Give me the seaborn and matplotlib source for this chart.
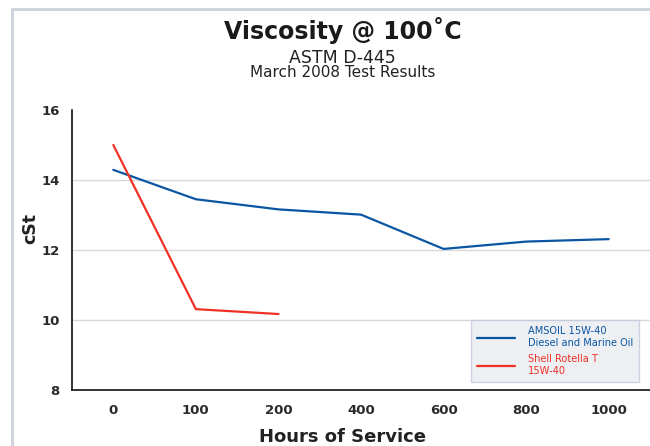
import numpy as np
import pandas as pd
import seaborn as sns
import matplotlib.pyplot as plt
from matplotlib.lines import Line2D

# x axis is categorical: evenly spaced hour labels
hour_ticks = [0, 100, 200, 400, 600, 800, 1000]
y_ticks = [8, 10, 12, 14, 16]

amsoil_hours = [0, 100, 200, 400, 600, 800, 1000]
amsoil_cst = [14.29, 13.45, 13.16, 13.01, 12.03, 12.24, 12.31]

shell_hours = [0, 100, 200]
shell_cst = [15.0, 10.31, 10.17]

amsoil_label = 'AMSOIL 15W-40\nDiesel and Marine Oil'
shell_label = 'Shell Rotella T\n15W-40'

BLUE = '#0b56a3'
RED = '#ee3124'

sns.set_style('white')
plt.rcParams['font.family'] = ['Liberation Sans Narrow', 'DejaVu Sans']

df = pd.concat([
    pd.DataFrame({'hours': amsoil_hours, 'cst': amsoil_cst, 'oil': amsoil_label}),
    pd.DataFrame({'hours': shell_hours, 'cst': shell_cst, 'oil': shell_label}),
])
# map hours onto the evenly spaced category positions
df['pos'] = np.interp(df['hours'], hour_ticks, np.arange(len(hour_ticks)))

fig = plt.figure(figsize=(6.5, 4.46), dpi=100)
ax = fig.add_axes([0.1108, 0.1256, 0.8892, 0.6278])

sns.lineplot(data=df, x='pos', y='cst', hue='oil', palette=[BLUE, RED],
             linewidth=1.6, ax=ax, sort=False, estimator=None)

ax.set_xlim(-0.5, 6.5)
ax.set_ylim(8, 16)
ax.set_xticks(np.arange(len(hour_ticks)))
ax.set_xticklabels([str(h) for h in hour_ticks])
ax.set_yticks(y_ticks)
ax.tick_params(axis='both', length=0, labelsize=9.5, labelcolor='#2a2a2a')
ax.tick_params(axis='x', pad=10)
ax.tick_params(axis='y', pad=9)
for lab in ax.get_xticklabels() + ax.get_yticklabels():
    lab.set_fontweight('bold')
ax.set_xlabel('')
ax.set_ylabel('cSt', fontsize=12.5, fontweight='bold', color='#222222')
ax.yaxis.set_label_coords(-0.056, 0.578)

ax.yaxis.grid(True, color='#d9d9d9', linewidth=1)
gl = ax.get_ygridlines()
gl[0].set_visible(False)
gl[-1].set_visible(False)

for s in ['top', 'right']:
    ax.spines[s].set_visible(False)
for s in ['left', 'bottom']:
    ax.spines[s].set_color('#111111')
    ax.spines[s].set_linewidth(1.2)

leg = ax.legend(loc='lower right', bbox_to_anchor=(0.99, 0.01), frameon=True,
                fontsize=7.1, labelcolor='linecolor', handlelength=3.8,
                handletextpad=1.3, borderpad=0.65, labelspacing=0.65,
                fancybox=False, title=None)
leg.get_frame().set_facecolor('#e9ebf1')
leg.get_frame().set_edgecolor('#c3c9dc')

# titles
fig.text(0.527, 0.912, 'Viscosity @ 100˚C', ha='center', va='baseline',
         fontsize=17, fontweight='bold', color='#1a1a1a')
fig.text(0.527, 0.859, 'ASTM D-445', ha='center', va='baseline',
         fontsize=12.5, color='#222222')
fig.text(0.527, 0.827, 'March 2008 Test Results', ha='center', va='baseline',
         fontsize=11, color='#222222')
fig.text(0.527, 0.008, 'Hours of Service', ha='center', va='baseline',
         fontsize=13, fontweight='bold', color='#222222')
# outer frame lines
fig.add_artist(Line2D([0.019, 1.0], [0.979, 0.979], color='#d0d4dd', linewidth=2.2))
fig.add_artist(Line2D([0.019, 0.019], [0.0, 0.979], color='#d0d4dd', linewidth=2.2))

fig.savefig('out.png', dpi=100)
